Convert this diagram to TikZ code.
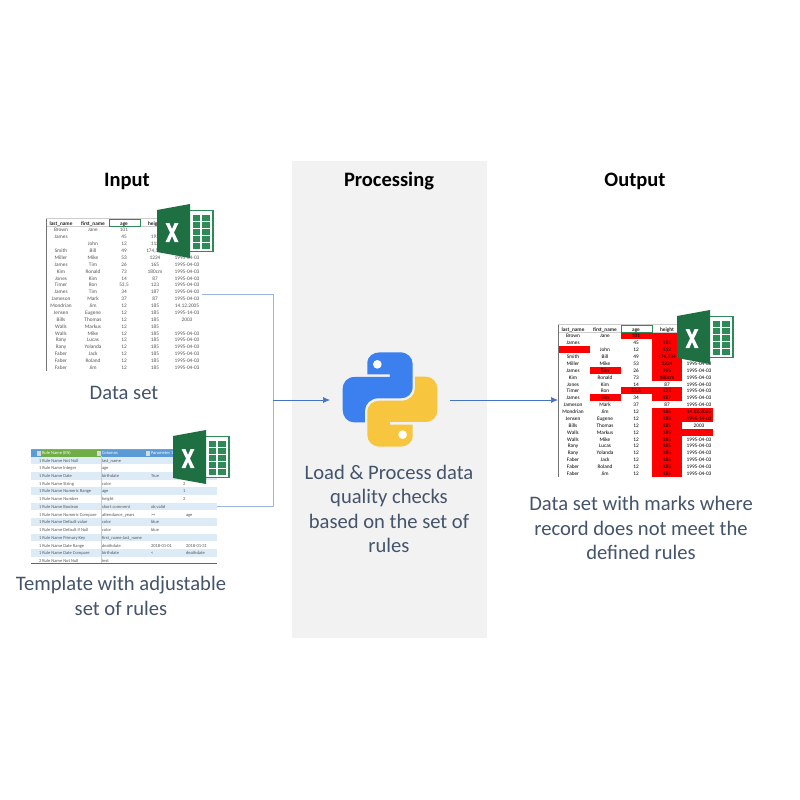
\documentclass[tikz,border=0pt]{standalone}
\usepackage{fontspec}
\setmainfont{Carlito}
\usetikzlibrary{arrows.meta}
\definecolor{slate}{HTML}{44546A}
\definecolor{panel}{HTML}{F2F2F2}
\definecolor{connA}{HTML}{4472C4}
\definecolor{connB}{HTML}{9DB5E2}
\definecolor{xlA}{HTML}{1E6F42}
\definecolor{xlB}{HTML}{2E8B57}
\definecolor{pyB}{HTML}{3B80EE}
\definecolor{pyY}{HTML}{F8C53F}
\definecolor{band}{HTML}{DDEBF7}
\definecolor{hdB}{HTML}{5B9BD5}
\definecolor{hdG}{HTML}{70AD47}
\definecolor{cellink}{HTML}{555555}
\definecolor{hl}{HTML}{FF0000}
\tikzset{
  x=1pt,y=-1pt,
  every node/.style={inner sep=0pt,outer sep=0pt},
  heading/.style={font=\fontsize{20.5}{24}\selectfont\bfseries,text=black,anchor=center},
  caption/.style={font=\fontsize{20.6}{24.4}\selectfont,text=slate,align=center,anchor=center},
  cell/.style={font=\fontsize{5.3}{6}\selectfont,text=cellink,anchor=center,text height=5pt,text depth=1pt},
  cellhead/.style={font=\fontsize{5.3}{6}\selectfont\bfseries,text=black!85,anchor=center,text height=5pt,text depth=1pt},
  rule/.style={font=\fontsize{4.5}{6}\selectfont,text=cellink,anchor=west,text height=4.6pt,text depth=1pt},
  ruleh/.style={font=\fontsize{4.5}{6}\selectfont,text=white,anchor=west,text height=4.6pt,text depth=1pt},
  area/.style={minimum width=#1,draw=none,anchor=north west},
  conn/.style={draw=connA,line width=0.7pt,-{Latex[length=7pt,width=6pt]}},
  connlight/.style={draw=connB,line width=0.8pt},
}
% Excel icon, 57 x 54 px, origin top-left
\newcommand{\xlicon}[2]{%
 \begin{scope}[shift={(#1,#2)}]
  \fill[white] (30,6) rectangle (57,48);
  \draw[xlB,line width=1.1pt] (30,6.5) -- (56,6.5) -- (56,47.5) -- (30,47.5);
  \foreach \yy in {11,18,25,32,39}{
    \fill[xlB] (35.5,\yy) rectangle (43,\yy+5.5);
    \fill[xlB] (44.5,\yy) rectangle (53,\yy+5.5);
  }
  \fill[xlA] (0,6) -- (33,0) -- (33,54) -- (0,48) -- cycle;
  \fill[white] (8.5,19) -- (12.4,19) -- (15,25) -- (17.6,19) -- (21.5,19) -- (17,28.5) -- (21.5,38) -- (17.6,38) -- (15,32) -- (12.4,38) -- (8.5,38) -- (13,28.5) -- cycle;
 \end{scope}}
% Data table rows: last, first, age, height, date
\newcommand{\datarows}{%
 Brown/Jane/101//, James//45/192/, /John/12/112/, Smith/Bill/49/{174,534}/,
 Miller/Mike/53/1224/1995-04-03, James/Tim/26/165/1995-04-03, Kim/Ronald/73/180cm/1995-04-03,
 Jones/Kim/14/87/1995-04-03, Timer/Ron/{53,5}/123/1995-04-03, James/Tim/34/187/1995-04-03,
 Jameson/Mark/37/87/1995-04-03, Mondrian/Jim/12/185/14.12.2005, Jensen/Eugene/12/185/1995-14-03,
 Bills/Thomas/12/185/2003, Walls/Markus/12/185/, Walls/Mike/12/185/1995-04-03,
 Rany/Lucas/12/185/1995-04-03, Rany/Yolanda/12/185/1995-04-03, Faber/Jack/12/185/1995-04-03,
 Faber/Roland/12/185/1995-04-03, Faber/Jim/12/185/1995-04-03}
% #1 left x, #2 header centre y, #3 width
\newcommand{\datatable}[3]{%
 \begin{scope}[shift={(#1,#2)}]
  \draw[draw=black!20,line width=0.4pt] (0,-4.5) -- (#3,-4.5);
  \draw[draw=black!20,line width=0.3pt] (0,3.4) -- (#3,3.4);
  \draw[draw=black!55,line width=0.8pt] (0,-4.5) -- (0,148);
  \draw[draw=xlB,line width=0.5pt] (63,-4) rectangle (94,3.4);
  \node[cellhead] at (15,0) {last\_name};
  \node[cellhead] at (47,0) {first\_name};
  \node[cellhead] at (78,0) {age};
  \node[cellhead] at (109,0) {height};
  \foreach \a/\b/\c/\d/\e [count=\i] in \datarows {
    \node[cell] at (15,\i*6.88) {\a};
    \node[cell] at (47,\i*6.88) {\b};
    \node[cell] at (78,\i*6.88) {\c};
    \node[cell] at (109,\i*6.88) {\d};
    \node[cell] at (141,\i*6.88) {\e};
  }
 \end{scope}}
\begin{document}
\begin{tikzpicture}
\useasboundingbox (0,0) rectangle (800,800);
\fill[white] (0,0) rectangle (800,800);
\fill[panel] (292,161) rectangle (487,638);

\node[heading] (hin) at (127,181) {Input};
\node[heading] (hproc) at (389,181) {Processing};
\node[heading] (hout) at (635,181) {Output};

% input table
\node[area=156pt,minimum height=152pt] (tblin) at (46,219) {};
\datatable{46}{223}{156}
\xlicon{157}{204}
\node[caption] (capin) at (124,393) {Data set};

% rule table
\node[area=186pt,minimum height=113pt] (tblrule) at (31,450) {};
\foreach \yy in {460.3,475.7,491.1,506.6,522,537.4,552.9}{
  \fill[band] (31,\yy-3.86) rectangle (217,\yy+3.86);
}
\fill[hdB] (31,450) rectangle (41,456.5);
\fill[hdG] (41,450) rectangle (101,456.5);
\fill[hdB] (101,450) rectangle (217,456.5);
\fill[white!85!black] (37,451) rectangle (41,455.5);
\fill[white!85!black] (96.5,451) rectangle (100.5,455.5);
\fill[white!85!black] (146,451) rectangle (150,455.5);
\draw[black!40,line width=0.4pt] (31,449.6) -- (217,449.6);
\draw[black!20,line width=0.4pt] (101,456) -- (101,563);
\draw[black!60,line width=0.7pt] (31,563) -- (217,563);
\node[ruleh] at (42,453) {Rule Name (EN)};
\node[ruleh] at (102,453) {Columns};
\node[ruleh] at (151,453) {Parameter 1};
\foreach \n/\c/\p/\q/\r [count=\i] in {
 1 Rule Name Not Null/last\_name///, 1 Rule Name Integer/age///, 1 Rule Name Date/birthdate/True//,
 1 Rule Name String/color///2, 1 Rule Name Numeric Range/age///1, 1 Rule Name Number/height///2,
 1 Rule Name Boolean/short comment/ok;valid//, 1 Rule Name Numeric Compare/attendance\_years/>=/age/,
 1 Rule Name Default value/color/blue//, 1 Rule Name Default if Null/color/blue//,
 1 Rule Name Primary Key/first\_name;last\_name///, 1 Rule Name Date Range/deathdate/2018-01-01/2018-01-31/,
 1 Rule Name Date Compare/birthdate/</deathdate/, 2 Rule Name Not Null/test///}{
  \pgfmathsetmacro\yy{460.3+(\i-1)*7.72}
  \node[rule] at (39,\yy) {\n};
  \node[rule] at (102,\yy) {\c};
  \node[rule] at (151,\yy) {\p};
  \node[rule] at (186,\yy) {\q};
  \node[rule] at (183,\yy) {\r};
}
\xlicon{173}{430}
\node[caption] (caprule) at (121,596) {Template with adjustable\\set of rules};

% output table
\node[area=155pt,minimum height=152pt] (tblout) at (558,325) {};
\begin{scope}[shift={(558,329)}]
  \foreach \xa/\xb/\ra/\rb in {
    63/94/1/1, 63/94/9/9, 32/63/6/6, 32/63/10/10, 0/32/3/3,
    94/124/1/7, 94/124/9/10, 94/124/12/21, 124/155/12/13, 124/155/15/15}{
    \fill[hl] (\xa,{(\ra-0.5)*6.88}) rectangle (\xb,{(\rb+0.5)*6.88});
  }
\end{scope}
\begin{scope}[cell/.append style={text=black}]
\datatable{558}{329}{155}
\end{scope}
\xlicon{677}{310}
\node[caption] (capout) at (641,528) {Data set with marks where\\record does not meet the\\defined rules};

% python logo
\node[minimum width=94pt,minimum height=95pt] (py) at (390,399.5) {};
\begin{scope}[shift={(270,280)},x=0.3333pt,y=-0.3333pt]
  \fill[pyB] (292,283) -- (292,250) .. controls (292,228) and (310,217) .. (330,217)
     -- (390,217) .. controls (412,217) and (428,232) .. (428,252) -- (428,320)
     .. controls (428,342) and (412,355) .. (392,355) -- (325,355)
     .. controls (302,355) and (285,372) .. (285,392) -- (285,427) -- (252,427)
     .. controls (232,427) and (218,410) .. (218,390) -- (218,328)
     .. controls (218,306) and (232,291) .. (254,291) -- (360,291) -- (360,283) -- cycle;
  \fill[white] (322,253) circle (13);
  \begin{scope}[rotate around={180:(360,358.5)}]
  \fill[pyY] (292,283) -- (292,250) .. controls (292,228) and (310,217) .. (330,217)
     -- (390,217) .. controls (412,217) and (428,232) .. (428,252) -- (428,320)
     .. controls (428,342) and (412,355) .. (392,355) -- (325,355)
     .. controls (302,355) and (285,372) .. (285,392) -- (285,427) -- (252,427)
     .. controls (232,427) and (218,410) .. (218,390) -- (218,328)
     .. controls (218,306) and (232,291) .. (254,291) -- (360,291) -- (360,283) -- cycle;
  \fill[white] (322,253) circle (13);
  \end{scope}
\end{scope}
\node[caption] (capproc) at (389,509) {Load \& Process data\\quality checks\\based on the set of\\rules};

% connectors
\coordinate (joint) at (273,400);
\coordinate (pyin) at (330,400);
\coordinate (pyout) at (450,400);
\draw[connlight] (tblin.east |- 0,294.5) -| (joint);
\draw[connlight] (tblrule.east |- 0,506.5) -| (joint);
\draw[conn] (joint) -- (pyin);
\draw[conn] (pyout) -- (tblout.west |- pyout);
\end{tikzpicture}
\end{document}
